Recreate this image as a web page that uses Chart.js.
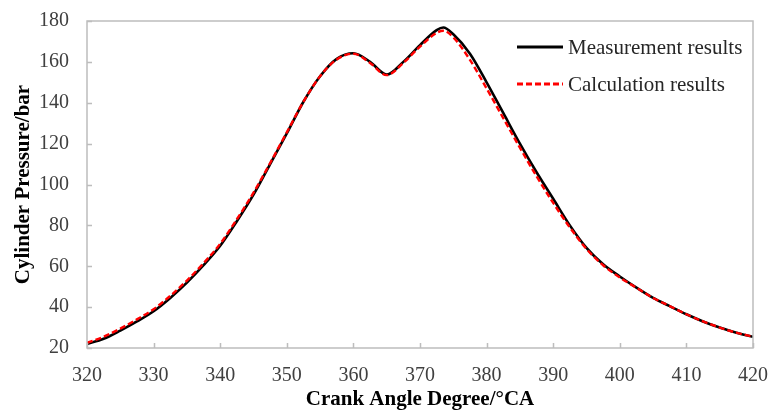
<!DOCTYPE html>
<html>
<head>
<meta charset="utf-8">
<script src="https://cdn.jsdelivr.net/npm/chart.js@4.4.1/dist/chart.umd.min.js"></script>
<style>
  html, body { margin: 0; padding: 0; background: #fff; }
  #wrap { width: 771px; height: 412px; }
</style>
</head>
<body>
<div id="wrap"><canvas id="chart" width="771" height="412"></canvas></div>
<script>
// crank angle (°CA)
const angles = [320, 322.5, 325, 327.5, 330, 332.5, 335, 337.5, 340, 342.5, 345, 347.5,
  350, 352.5, 355, 357.5, 360, 362.5, 365, 367.5, 370, 372.5, 373.5, 375, 377.5,
  380, 382.5, 385, 387.5, 390, 392.5, 395, 397.5, 400, 402.5, 405, 407.5, 410,
  412.5, 415, 417.5, 420];
// cylinder pressure (bar)
const measured = [22, 24.5, 28.5, 33, 38, 44.5, 52, 60.5, 70, 82, 95, 110,
  125, 140.5, 153, 161.5, 164.2, 160, 153.8, 160, 168.2, 175.5, 176.8, 173.5, 164,
  150, 135, 120, 106, 93, 80, 69, 61, 55, 49.5, 44.5, 40.5, 36.5,
  33, 30, 27.5, 25.5];
const calculated = [22.5, 25.5, 29.5, 34, 39, 45.5, 53, 61.5, 71, 83, 96, 110.5,
  125.5, 140.5, 153, 161.2, 164, 159.5, 153.5, 159.5, 167.5, 174.2, 175.2, 172, 161,
  147, 132.5, 118, 104, 91, 79, 68.5, 60.5, 54.5, 49.5, 44.5, 40.5, 36.5,
  33, 30, 27.5, 25.5];
const seriesNames = ['Measurement results', 'Calculation results'];
const xTicks = [320, 330, 340, 350, 360, 370, 380, 390, 400, 410, 420];
const yTicks = [20, 40, 60, 80, 100, 120, 140, 160, 180];

const serif = "'Liberation Serif', 'Times New Roman', serif";
const frameColor = '#bdbdbd';

const toPoints = vals => angles.map((a, i) => ({ x: a, y: vals[i] }));

// box round the plot, inward tick marks and the legend inside the plot
const framePlugin = {
  id: 'frame',
  afterDraw(chart) {
    const { ctx, chartArea: a, scales } = chart;
    ctx.save();
    ctx.strokeStyle = frameColor;
    ctx.lineWidth = 1.5;
    ctx.strokeRect(a.left, a.top, a.right - a.left, a.bottom - a.top);
    ctx.beginPath();
    xTicks.forEach(v => {
      const px = Math.round(scales.x.getPixelForValue(v)) + 0.5;
      ctx.moveTo(px, a.bottom);
      ctx.lineTo(px, a.bottom - 5);
    });
    yTicks.forEach(v => {
      const py = Math.round(scales.y.getPixelForValue(v)) + 0.5;
      ctx.moveTo(a.left, py);
      ctx.lineTo(a.left + 5, py);
    });
    ctx.stroke();

    // legend
    const lx = a.right - 236;
    ctx.font = '21px ' + serif;
    ctx.textBaseline = 'middle';
    ctx.fillStyle = '#262626';
    seriesNames.forEach((name, i) => {
      const ds = chart.data.datasets.find(d => d.label === name);
      const ly = a.top + 26 + i * 37;
      ctx.beginPath();
      ctx.strokeStyle = ds.borderColor;
      ctx.lineWidth = ds.borderWidth + 0.4;
      ctx.setLineDash(ds.borderDash || []);
      ctx.moveTo(lx, ly);
      ctx.lineTo(lx + 46, ly);
      ctx.stroke();
      ctx.setLineDash([]);
      ctx.fillText(name, lx + 51, ly + 1);
    });
    ctx.restore();
  }
};

new Chart(document.getElementById('chart'), {
  type: 'line',
  data: {
    datasets: [
      {
        label: seriesNames[0],
        data: toPoints(measured),
        borderColor: '#000000',
        borderWidth: 2.6,
        pointRadius: 0,
        order: 1,
        cubicInterpolationMode: 'monotone'
      },
      {
        label: seriesNames[1],
        data: toPoints(calculated),
        borderColor: '#ff0000',
        borderWidth: 2.4,
        borderDash: [6, 3],
        pointRadius: 0,
        order: 0,
        cubicInterpolationMode: 'monotone'
      }
    ]
  },
  options: {
    responsive: false,
    animation: false,
    layout: { padding: { top: 21, right: 18, left: 0, bottom: 0 } },
    plugins: {
      legend: { display: false },
      tooltip: { enabled: false }
    },
    scales: {
      x: {
        type: 'linear',
        min: 320,
        max: 420,
        afterBuildTicks: s => { s.ticks = xTicks.map(v => ({ value: v })); },
        afterFit: s => { s.height = 64; s.paddingLeft = 0; s.paddingRight = 0; },
        grid: { display: false, drawTicks: false },
        border: { display: false },
        ticks: {
          padding: 16,
          color: '#404040',
          font: { family: serif, size: 20 }
        },
        title: {
          display: true,
          text: 'Crank Angle Degree/°CA',
          color: '#000',
          padding: { bottom: 2 },
          font: { family: serif, size: 21, weight: 'bold', lineHeight: 1 }
        }
      },
      y: {
        min: 20,
        max: 180,
        afterBuildTicks: s => { s.ticks = yTicks.map(v => ({ value: v })); },
        afterFit: s => { s.width = 87; s.paddingTop = 0; s.paddingBottom = 0; },
        grid: { display: false, drawTicks: false },
        border: { display: false },
        ticks: {
          padding: 18,
          color: '#404040',
          font: { family: serif, size: 20 }
        },
        title: {
          display: true,
          text: 'Cylinder Pressure/bar',
          color: '#000',
          padding: { top: 13 },
          font: { family: serif, size: 21, weight: 'bold', lineHeight: 1 }
        }
      }
    }
  },
  plugins: [framePlugin]
});
</script>
</body>
</html>
